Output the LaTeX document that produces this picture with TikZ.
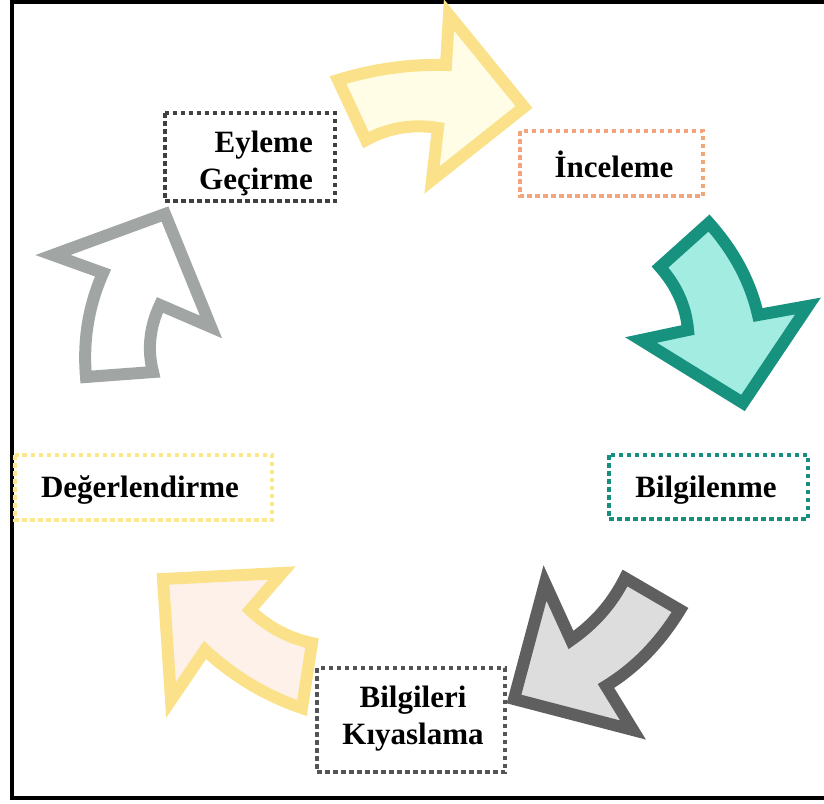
\documentclass[tikz,border=0pt]{standalone}
\usepackage{fontspec}
\setmainfont{Liberation Serif}
\definecolor{ylwS}{HTML}{FBE28A}
\definecolor{ylwF}{HTML}{FFFDE6}
\definecolor{tealS}{HTML}{17927F}
\definecolor{tealF}{HTML}{A2ECE2}
\definecolor{dgrayS}{HTML}{5E5F5E}
\definecolor{dgrayF}{HTML}{DCDDDC}
\definecolor{peachF}{HTML}{FDF1EA}
\definecolor{lgrayS}{HTML}{A1A6A5}
\definecolor{boxdark}{HTML}{404040}
\definecolor{boxorange}{HTML}{F2A57C}
\definecolor{boxteal}{HTML}{178E80}
\definecolor{boxyellow}{HTML}{FCE78E}
\definecolor{boxgray}{HTML}{555555}
\tikzset{
  arrowshape/.style={line width=12pt, line join=miter},
  dotbox/.style={line width=4.5pt, dash pattern=on 4.5pt off 3.5pt},
  lbl/.style={font=\fontsize{31}{37}\selectfont\bfseries, inner sep=0pt},
}
\begin{document}
\begin{tikzpicture}[x=1pt,y=-1pt]
\useasboundingbox (0,0) rectangle (824,803);
% frame
\draw[line width=4pt] (12,798) -- (12,1.5) -- (830,1.5);
\draw[line width=4pt] (10,798) -- (830,798);

% top yellow arrow (right)
\draw[arrowshape, draw=ylwS, fill=ylwF]
  (338,80) .. controls (374,69) and (410,64) .. (446,65)
  -- (449,15) -- (524,107) -- (432,180) -- (438,128)
  .. controls (414,124) and (390,127) .. (366,140) -- cycle;

% teal arrow (down)
\draw[arrowshape, draw=tealS, fill=tealF]
  (709,223) -- (660,267)
  .. controls (676,285) and (686,306) .. (688,330)
  -- (641,340) -- (743,403) -- (808,306) -- (758,315)
  .. controls (750,280) and (733,250) .. (709,223) -- cycle;

% dark gray arrow (down-left)
\draw[arrowshape, draw=dgrayS, fill=dgrayF]
  (625,578) -- (680,610)
  .. controls (661,641) and (637,667) .. (606,686)
  -- (633,730) -- (514,699) -- (545,583) -- (571,640)
  .. controls (594,624) and (612,604) .. (625,578) -- cycle;

% bottom-left arrow (up-left)
\draw[arrowshape, draw=ylwS, fill=peachF]
  (282,573) -- (163,579) -- (171,700) -- (205,650)
  .. controls (233,676) and (266,696) .. (302,708)
  -- (312,643)
  .. controls (288,638) and (268,627) .. (250,610) -- cycle;

% left gray arrow (up-right)
\draw[arrowshape, draw=lgrayS, fill=white]
  (165,214) -- (211,327) -- (160,305)
  .. controls (150,326) and (147,349) .. (153,372)
  -- (86,377)
  .. controls (83,341) and (88,307) .. (103,273)
  -- (53,255) -- cycle;

% boxes
\draw[dotbox, draw=boxdark] (165,113) rectangle (335,201);
\draw[dotbox, draw=boxorange] (520,131) rectangle (703,196);
\draw[dotbox, draw=boxteal] (609,455) rectangle (808,519);
\draw[dotbox, draw=boxyellow] (15,455) rectangle (272,520);
\draw[dotbox, draw=boxgray] (317,668) rectangle (505,772);

% labels
\node[lbl, align=right, anchor=east] (eyl) at (313,163) {Eyleme\\Geçirme};
\node[lbl] (inc) at (614,164) {İnceleme};
\node[lbl] (bil) at (706,490) {Bilgilenme};
\node[lbl] (deg) at (140,490) {Değerlendirme};
\node[lbl, align=center] (kiy) at (413,719) {Bilgileri\\Kıyaslama};
\end{tikzpicture}
\end{document}
